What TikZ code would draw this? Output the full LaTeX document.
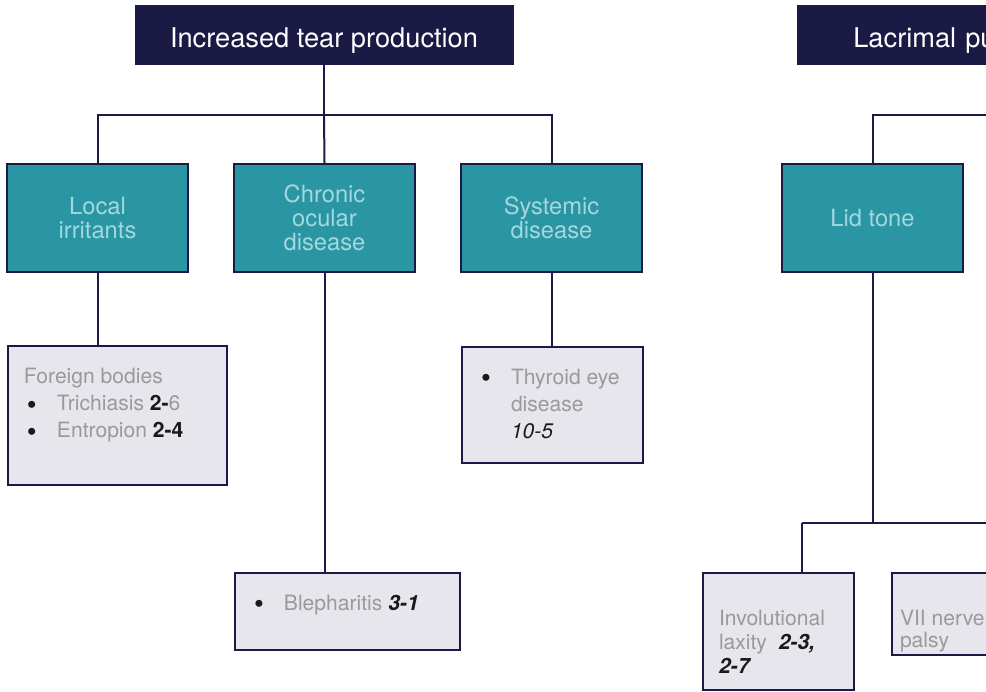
\documentclass[tikz,border=0pt]{standalone}
\usepackage{fontspec}
\setmainfont{TeX Gyre Heros}
\usetikzlibrary{positioning}
\usetikzlibrary{calc}
\definecolor{navy}{HTML}{1B1A45}
\definecolor{tealbox}{HTML}{2A95A3}
\definecolor{tealtext}{HTML}{A3D8DF}
\definecolor{leafgray}{HTML}{E7E6EC}
\definecolor{leaftext}{HTML}{9A9A9A}
\definecolor{ink}{HTML}{1A1A1A}
\newcommand{\bul}{\hspace*{0.06cm}\makebox[0.6cm][l]{\smash{\raisebox{-2.2pt}{\textcolor{ink}{\fontsize{16}{15.5}\selectfont\textbullet}}}}}
\newcommand{\refno}[1]{\textcolor{ink}{\bfseries\itshape #1}}

\begin{document}
\begin{tikzpicture}[x=0.02cm, y=-0.02cm,
  link/.style={draw=navy, line width=0.04cm},
  header/.style={rectangle, fill=navy, draw=navy, text=white, inner sep=0pt,
    font=\fontsize{15.5}{18}\selectfont, minimum width=7.56cm, minimum height=1.18cm,
    text height=0.52cm, text depth=0cm},
  group/.style={rectangle, fill=tealbox, draw=navy, line width=0.04cm, text=tealtext,
    align=center, font=\fontsize{13.5}{13.6}\selectfont,
    minimum width=3.62cm, minimum height=2.16cm},
  leaf/.style={rectangle, fill=leafgray, draw=navy, line width=0.04cm, text=leaftext,
    anchor=north west, inner xsep=0.32cm, inner ysep=0.36cm,
    font=\fontsize{12}{15.5}\selectfont}]

\useasboundingbox (0,0) rectangle (986,691);
\clip (0,0) rectangle (986,691);

% headers
\node[header] (incr) at (324,34.5) {Increased tear production};
\node[header, anchor=north west, align=left, text width=5.32cm, inner xsep=1.12cm] (lacr) at (797,5) {Lacrimal pu};

% second row
\node[group] (local) at (97.5,218) {Local\\irritants};
\node[group] (chronic) at (324.5,218) {Chronic\\ocular\\disease};
\node[group] (systemic) at (551.5,218) {Systemic\\disease};
\node[group] (lid) at (872.5,218) {Lid tone};

% leaves
\node[leaf] (foreign) at (7,345) {\parbox[c][2.06cm][t]{3.74cm}{\strut Foreign bodies\\
  \bul Trichiasis \textcolor{ink}{\bfseries 2-}6\\
  \bul Entropion \textcolor{ink}{\bfseries 2-4}}};
\node[leaf] (thyroid) at (461,346) {\parbox[c][1.6cm][t]{2.98cm}{\strut\bul\parbox[t]{2.3cm}{\raggedright Thyroid eye\\disease\\\textcolor{ink}{\itshape 10-5}}}};
\node[leaf] (bleph) at (234,572) {\parbox[c][0.82cm][t]{3.86cm}{\strut\bul Blepharitis \refno{3-1}}};
\node[leaf] (invol) at (702,572) {\parbox[c][1.62cm][t]{2.38cm}{\vspace*{0.3cm}\strut Involutional\\[-0.06cm]
  laxity\ \ \refno{2-3,}\\[-0.06cm] \refno{2-7}}};
\node[leaf, inner xsep=0.16cm] (seventh) at (891,572) {\parbox[c][0.92cm][t]{2.7cm}{\vspace*{0.3cm}\strut VII nerve\\[-0.1cm]palsy}};

% connectors
\coordinate (bus1) at (324,115);
\coordinate (bus2) at (1000,115);
\coordinate (drop) at (802,523);
\coordinate (bus3) at (1000,523);

\draw[link] (incr.south) -- (bus1);
\draw[link] (local.north) |- (bus1) -| (systemic.north);
\draw[link] (bus1) -- (chronic.north);
\draw[link] (lid.north) |- (bus2);

\draw[link] (local.south) -- (local.south |- foreign.north);
\draw[link] (chronic.south) -- (chronic.south |- bleph.north);
\draw[link] (systemic.south) -- (systemic.south |- thyroid.north);

\draw[link] (lid.south) -- (lid.south |- drop);
\draw[link] (drop) -- (bus3);
\draw[link] (drop) -- (drop |- invol.north);

\end{tikzpicture}
\end{document}
